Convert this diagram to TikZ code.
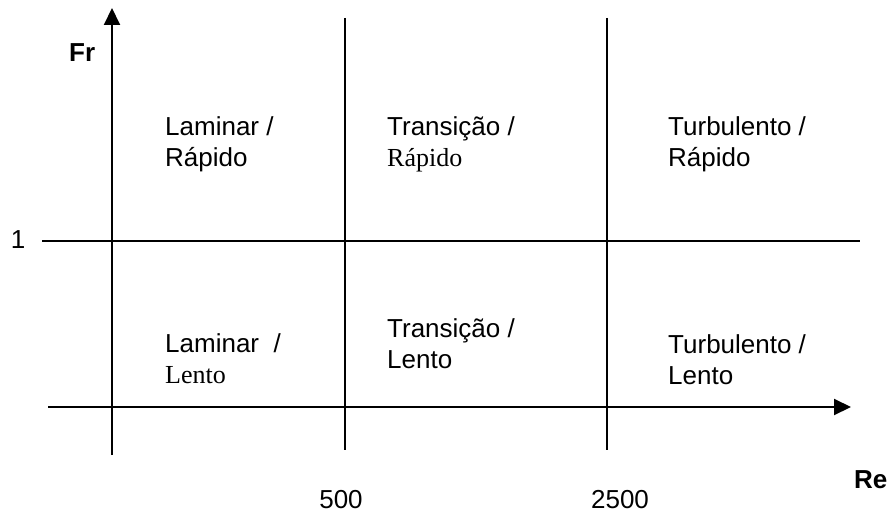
\documentclass[tikz,border=0pt]{standalone}
\usepackage{fontspec}
\setmainfont{Liberation Sans}
\newfontfamily\tnr{Liberation Serif}
\usetikzlibrary{arrows.meta}
\tikzset{
  axis/.style={line width=2pt,-{Triangle[width=16pt,length=17pt]}},
  grid/.style={line width=1.5pt},
  lbl/.style={anchor=base west,align=left,inner sep=0pt,font=\fontsize{26}{31}\selectfont},
  tick/.style={anchor=base,inner sep=0pt,font=\fontsize{26}{31}\selectfont},
  axlbl/.style={anchor=base west,inner sep=0pt,font=\fontsize{26}{31}\selectfont\bfseries}
}
\begin{document}
\begin{tikzpicture}[x=1pt,y=-1pt]
\useasboundingbox (0,0) rectangle (890,513);
% coordinates
\coordinate (yb) at (112,455);
\coordinate (yt) at (112,8);
\coordinate (xl) at (48,407);
\coordinate (xr) at (851,407);
\coordinate (hl) at (42,241);
\coordinate (hr) at (860,241);
\coordinate (v1t) at (345,18);
\coordinate (v1b) at (345,450);
\coordinate (v2t) at (607,18);
\coordinate (v2b) at (607,450);
% lines
\draw[grid] (hl) -- (hr);
\draw[grid] (v1t) -- (v1b);
\draw[grid] (v2t) -- (v2b);
\draw[axis] (yb) -- (yt);
\draw[axis] (xl) -- (xr);
% axis labels
\node[axlbl] (fr) at (69,62) {Fr};
\node[axlbl] (re) at (854,488) {Re};
\node[tick] (one) at (18,248) {1};
\node[tick] (t500) at (341,508) {500};
\node[tick] (t2500) at (620,508) {2500};
% region labels (anchor = baseline of last line)
\node[lbl] (lr) at (165,167) {Laminar /\\Rápido};
\node[lbl] (tr) at (387,167) {Transição /\\{\tnr Rápido}};
\node[lbl] (ur) at (668,167) {Turbulento /\\Rápido};
\node[lbl] (ll) at (165,383) {Laminar~ /\\{\tnr Lento}};
\node[lbl] (tl) at (387,368) {Transição /\\Lento};
\node[lbl] (ul) at (668,384) {Turbulento /\\Lento};
\end{tikzpicture}
\end{document}
